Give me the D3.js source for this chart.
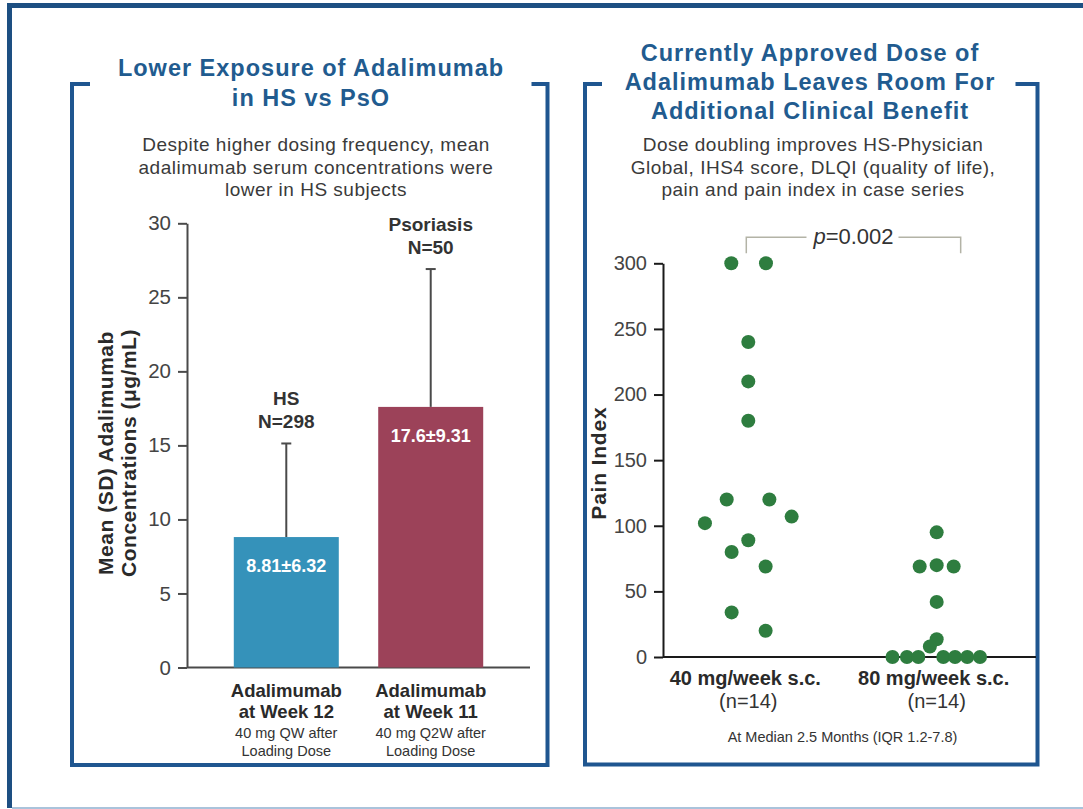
<!DOCTYPE html>
<html><head><meta charset="utf-8">
<script src="https://cdn.jsdelivr.net/npm/d3@7"></script>
<style>
body{margin:0;background:#fff;}
svg{display:block;}
text{font-family:"Liberation Sans",Arial,Helvetica,sans-serif;}
</style>
</head><body>
<script>
// ---------- DATA ----------
const leftTitle = ["Lower Exposure of Adalimumab", "in HS vs PsO"];
const leftSubtitle = ["Despite higher dosing frequency, mean", "adalimumab serum concentrations were", "lower in HS subjects"];
const leftYLabel = ["Mean (SD) Adalimumab", "Concentrations (μg/mL)"];
const barCategories = ["Adalimumab at Week 12", "Adalimumab at Week 11"];
const barCategoryLines = [["Adalimumab", "at Week 12"], ["Adalimumab", "at Week 11"]];
const barRegimens = [["40 mg QW after", "Loading Dose"], ["40 mg Q2W after", "Loading Dose"]];
const barGroups = ["HS", "Psoriasis"];
const barN = ["N=298", "N=50"];
const barMeans = [8.81, 17.6];
const barSDs = [6.32, 9.31];
const barValueLabels = ["8.81±6.32", "17.6±9.31"];
const barTicks = [0, 5, 10, 15, 20, 25, 30];

const rightTitle = ["Currently Approved Dose of", "Adalimumab Leaves Room For", "Additional Clinical Benefit"];
const rightSubtitle = ["Dose doubling improves HS-Physician", "Global, IHS4 score, DLQI (quality of life),", "pain and pain index in case series"];
const doseCategories = ["40 mg/week s.c.", "80 mg/week s.c."];
const doseN = ["(n=14)", "(n=14)"];
const painIndex40 = [300, 300, 240, 210, 180, 120, 120, 107, 102, 89, 80, 69, 34, 20];
const jitter40    = [-1, 1.04, 0, 0, 0, -1.27, 1.24, 2.55, -2.55, 0, -0.98, 1.02, -0.98, 1.02];
const painIndex80 = [95, 70, 69, 69, 42, 13.5, 8, 0, 0, 0, 0, 0, 0, 0];
const jitter80    = [0, 0, -1, 1, 0, 0, -0.4, -2.6, -1.75, -1.08, 0.39, 1.08, 1.8, 2.55];
const painTicks = [0, 50, 100, 150, 200, 250, 300];
const pLabel = "0.002";
const footnote = "At Median 2.5 Months (IQR 1.2-7.8)";

// ---------- STYLE ----------
const navy = "#1f5690";
const titleBlue = "#215b8f";
const textGray = "#3a3a3a";
const hsColor = "#3592ba";
const psoColor = "#9c4259";
const dotColor = "#2e7d3f";

const W = 1083, H = 809;
const svg = d3.select("body").append("svg").attr("width", W).attr("height", H);

// outer frame
svg.append("rect").attr("x", 7).attr("y", 3).attr("width", W - 7).attr("height", 5).attr("fill", "#1d4f82");
svg.append("rect").attr("x", 7).attr("y", 3).attr("width", 5).attr("height", 805).attr("fill", "#1d4f82");
svg.append("line").attr("x1", 12).attr("x2", W).attr("y1", 808).attr("y2", 808)
  .attr("stroke", "#8eafcf").attr("stroke-width", 1.5);

// panel brackets
function panel(x0, x1, y0, y1, lw, rw) {
  svg.append("path")
    .attr("d", `M${x0 + lw},${y0} H${x0} V${y1} H${x1} V${y0} H${x1 - rw}`)
    .attr("fill", "none").attr("stroke", navy).attr("stroke-width", 4);
}
panel(72, 547.5, 84, 765, 18, 16);
panel(585, 1037.5, 84, 764.5, 17, 22);

function multiline(lines, cx, baselines, opts) {
  lines.forEach((t, i) => {
    svg.append("text").attr("x", cx).attr("y", baselines[i])
      .attr("text-anchor", "middle")
      .attr("font-size", opts.size).attr("font-weight", opts.weight || "normal")
      .attr("letter-spacing", opts.ls || 0)
      .attr("fill", opts.fill).text(t);
  });
}

// titles
multiline(leftTitle, 311, [76, 106], {size: 23.5, weight: "bold", ls: 1, fill: titleBlue});
multiline(rightTitle, 810, [61, 90, 119], {size: 23.5, weight: "bold", ls: 1, fill: titleBlue});
multiline(leftSubtitle, 316, [151, 173.5, 196], {size: 19, ls: 0.5, fill: textGray});
multiline(rightSubtitle, 813, [151, 173.5, 196], {size: 19, ls: 0.5, fill: textGray});

// ---------- LEFT BAR CHART ----------
const yL = d3.scaleLinear().domain([0, 30]).range([667.5, 223.3]);
const xL = d3.scaleBand().domain(barCategories).range([187, 530]).paddingInner(0.273).paddingOuter(0.324);
const gL = svg.append("g");

const yAxisL = gL.append("g").attr("transform", "translate(187,0)")
  .call(d3.axisLeft(yL).tickValues(barTicks).tickSize(9).tickSizeOuter(0).tickPadding(7));
yAxisL.select(".domain").attr("stroke", "#4a4a4a").attr("stroke-width", 2);
yAxisL.selectAll(".tick line").attr("stroke", "#4a4a4a").attr("stroke-width", 2);
yAxisL.selectAll(".tick text").attr("font-size", 20.5).attr("fill", "#444")
  .attr("font-family", "Liberation Sans, Arial, sans-serif");

gL.append("line").attr("x1", 187).attr("x2", 530).attr("y1", yL(0)).attr("y2", yL(0))
  .attr("stroke", "#4a4a4a").attr("stroke-width", 2);

const barColors = [hsColor, psoColor];
barCategories.forEach((c, i) => {
  const cx = xL(c) + xL.bandwidth() / 2;
  const top = yL(barMeans[i]);
  const errTop = yL(barMeans[i] + barSDs[i]);
  gL.append("line").attr("x1", cx).attr("x2", cx).attr("y1", top).attr("y2", errTop)
    .attr("stroke", "#4a4a4a").attr("stroke-width", 2);
  gL.append("line").attr("x1", cx - 5).attr("x2", cx + 5).attr("y1", errTop).attr("y2", errTop)
    .attr("stroke", "#4a4a4a").attr("stroke-width", 2);
  gL.append("rect").attr("x", xL(c)).attr("y", top).attr("width", xL.bandwidth())
    .attr("height", yL(0) - top).attr("fill", barColors[i]);
  gL.append("text").attr("x", cx).attr("y", top + 35).attr("text-anchor", "middle")
    .attr("font-size", 18).attr("font-weight", "bold").attr("fill", "#fff").text(barValueLabels[i]);
  gL.append("text").attr("x", cx).attr("y", errTop - 38).attr("text-anchor", "middle")
    .attr("font-size", 19).attr("font-weight", "bold").attr("fill", "#333").text(barGroups[i]);
  gL.append("text").attr("x", cx).attr("y", errTop - 15).attr("text-anchor", "middle")
    .attr("font-size", 19).attr("font-weight", "bold").attr("fill", "#333").text(barN[i]);
  barCategoryLines[i].forEach((t, k) => {
    gL.append("text").attr("x", cx).attr("y", yL(0) + 29 + k * 21.7).attr("text-anchor", "middle")
      .attr("font-size", 18.5).attr("font-weight", "bold").attr("fill", "#2a2a2a").text(t);
  });
  barRegimens[i].forEach((t, k) => {
    gL.append("text").attr("x", cx).attr("y", yL(0) + 70.5 + k * 17.5).attr("text-anchor", "middle")
      .attr("font-size", 14.5).attr("fill", "#333").text(t);
  });
});

const yMidL = 453;
leftYLabel.forEach((t, k) => {
  gL.append("text").attr("transform", `translate(${113 + k * 23},${yMidL}) rotate(-90)`)
    .attr("text-anchor", "middle").attr("font-size", 21).attr("font-weight", "bold")
    .attr("letter-spacing", 0.5).attr("fill", "#2a2a2a").text(t);
});

// ---------- RIGHT DOT PLOT ----------
const yR = d3.scaleLinear().domain([0, 300]).range([657, 263.3]);
const xR = d3.scalePoint().domain(doseCategories).range([663, 1036]).padding(0.49).align(0.462);
const gR = svg.append("g");
const dotStep = 17;

const yAxisR = gR.append("g").attr("transform", "translate(663,0)")
  .call(d3.axisLeft(yR).tickValues(painTicks).tickSize(9).tickSizeOuter(0).tickPadding(7));
yAxisR.select(".domain").attr("stroke", "#1a1a1a").attr("stroke-width", 2);
yAxisR.selectAll(".tick line").attr("stroke", "#1a1a1a").attr("stroke-width", 2);
yAxisR.selectAll(".tick text").attr("font-size", 20).attr("fill", "#444")
  .attr("font-family", "Liberation Sans, Arial, sans-serif");

gR.append("line").attr("x1", 663).attr("x2", 1036).attr("y1", yR(0)).attr("y2", yR(0))
  .attr("stroke", "#1a1a1a").attr("stroke-width", 2);

const groups = [
  {cat: doseCategories[0], vals: painIndex40, jit: jitter40},
  {cat: doseCategories[1], vals: painIndex80, jit: jitter80}
];
groups.forEach(g => {
  gR.selectAll(null).data(g.vals).enter().append("circle")
    .attr("cx", (d, i) => xR(g.cat) + g.jit[i] * dotStep)
    .attr("cy", d => yR(d))
    .attr("r", 7).attr("fill", dotColor);
});

doseCategories.forEach((c, i) => {
  gR.append("text").attr("x", xR(c) - 3).attr("y", yR(0) + 28).attr("text-anchor", "middle")
    .attr("font-size", 20).attr("font-weight", "bold").attr("fill", "#2a2a2a").text(c);
  gR.append("text").attr("x", xR(c)).attr("y", yR(0) + 51).attr("text-anchor", "middle")
    .attr("font-size", 20).attr("fill", "#333").text(doseN[i]);
});
const midX = (xR(doseCategories[0]) + xR(doseCategories[1])) / 2;
gR.append("text").attr("x", midX).attr("y", yR(0) + 85).attr("text-anchor", "middle")
  .attr("font-size", 14.5).attr("fill", "#333").text(footnote);

gR.append("text").attr("transform", `translate(606,${(yR(0) + yR(300)) / 2 + 3}) rotate(-90)`)
  .attr("text-anchor", "middle").attr("font-size", 21).attr("font-weight", "bold")
  .attr("letter-spacing", 0.8).attr("fill", "#2a2a2a").text("Pain Index");

// p-value bracket
const bx0 = xR(doseCategories[0]) - 2, bx1 = xR(doseCategories[1]) + 24;
const by = yR(300) - 26, byLeg = yR(300) - 10;
const bmid = (bx0 + bx1) / 2;
const bracketColor = "#b3b3a6";
gR.append("path").attr("d", `M${bx0},${byLeg} V${by} H${bmid - 47}`)
  .attr("fill", "none").attr("stroke", bracketColor).attr("stroke-width", 1.5);
gR.append("path").attr("d", `M${bmid + 45},${by} H${bx1} V${byLeg}`)
  .attr("fill", "none").attr("stroke", bracketColor).attr("stroke-width", 1.5);
const pt = gR.append("text").attr("x", bmid).attr("y", by + 7).attr("text-anchor", "middle")
  .attr("font-size", 22).attr("fill", "#333");
pt.append("tspan").attr("font-style", "italic").text("p");
pt.append("tspan").text("=" + pLabel);
</script>
</body></html>
